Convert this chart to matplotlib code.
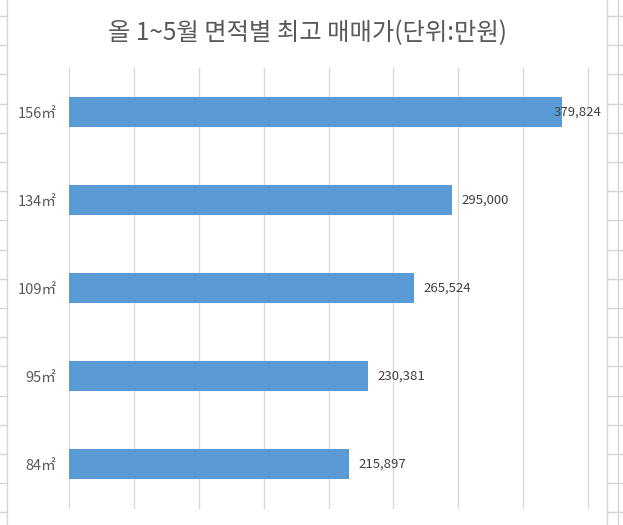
import matplotlib.pyplot as plt
from matplotlib.lines import Line2D

plt.rcParams['font.family'] = ['Noto Sans CJK KR', 'DejaVu Sans']

# 데이터 (아래에서 위 순서)
areas = ["84㎡", "95㎡", "109㎡", "134㎡", "156㎡"]
prices = [215897, 230381, 265524, 295000, 379824]
title = "올 1~5월 면적별 최고 매매가(단위:만원)"

bar_color = "#5B9BD5"
grid_color = "#D9D9D9"

fig = plt.figure(figsize=(6.23, 5.25), dpi=100)

# 배경 엑셀 셀 격자 (차트 바깥쪽)
W, H = 623, 525
cell = "#D6D6D6"
for xpx in [7, 607, 618]:
    fig.add_artist(Line2D([xpx / W] * 2, [0, 1], color=cell, lw=1))
row = 16
while row < H:
    y = 1 - row / H
    fig.add_artist(Line2D([0, 7 / W], [y, y], color=cell, lw=1))
    fig.add_artist(Line2D([607 / W, 1], [y, y], color=cell, lw=1))
    row += 29.2

ax = fig.add_axes([69 / W, 1 - 508 / H, (588 - 69) / W, (508 - 68) / H])

ypos = range(len(areas))
ax.barh(ypos, prices, height=0.35, color=bar_color, zorder=3)

ax.set_xlim(0, 400000)
ax.set_ylim(-0.5, len(areas) - 0.5)
ax.set_xticks([])
ax.tick_params(axis="x", length=0)
for g in range(50000, 400001, 50000):
    ax.axvline(g, color=grid_color, lw=1, zorder=0, clip_on=False)

ax.set_yticks(list(ypos))
ax.set_yticklabels(areas, fontsize=10.5, color="#595959")
ax.tick_params(axis="y", length=0, pad=9)

for s in ["top", "right", "bottom"]:
    ax.spines[s].set_visible(False)
ax.spines["left"].set_color(grid_color)

# 데이터 레이블
for i, v in enumerate(prices):
    label = f"{v:,}"
    if v > 350000:
        ax.text(1.027, i, label, transform=ax.get_yaxis_transform(),
                ha="right", va="center", fontsize=9.5, color="#404040", zorder=4)
    else:
        ax.annotate(label, (v, i), xytext=(7, 0), textcoords="offset points",
                    ha="left", va="center", fontsize=9.5, color="#404040")

fig.text(0.494, 1 - 33 / H, title, ha="center", va="center",
         fontsize=17.5, color="#595959")

fig.savefig("out.png", dpi=100)
